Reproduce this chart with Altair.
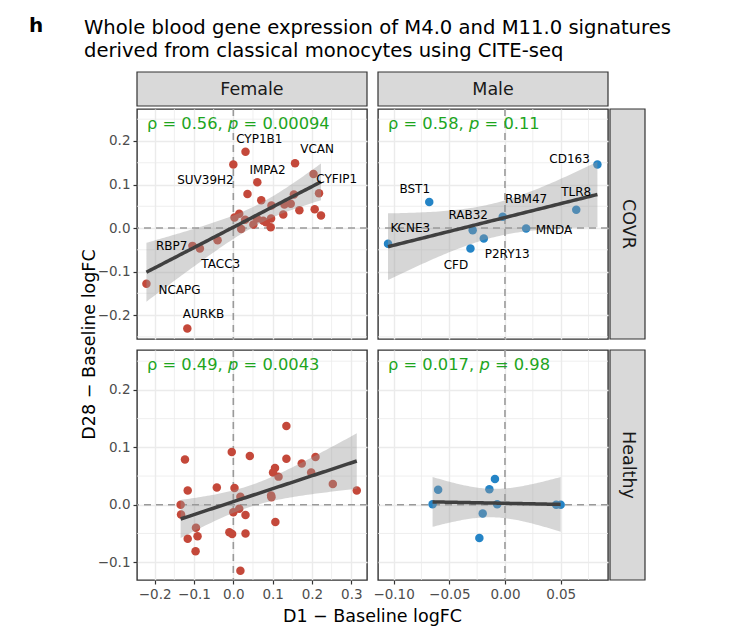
import math
import numpy as np
import pandas as pd
import altair as alt

FONT = "DejaVu Sans"

# ---------------- data ----------------
panel_tag = "h"
title_lines = ["Whole blood gene expression of M4.0 and M11.0 signatures",
               "derived from classical monocytes using CITE-seq"]
col_labels = ["Female", "Male"]
row_labels = ["COVR", "Healthy"]
x_title = "D1 \u2212 Baseline logFC"
y_title = "D28 \u2212 Baseline logFC"

# Female / COVR
fc_x = [0.031, 0.000, 0.157, 0.061, 0.204, 0.218, 0.036, 0.071, 0.154, 0.130, 0.146,
        0.168, 0.097, 0.207, 0.223, 0.127, 0.015, 0.003, 0.020, 0.051, 0.076, 0.083,
        0.096, 0.095, 0.060, 0.030, -0.104, -0.085, -0.040, -0.221, -0.117]
fc_y = [0.175, 0.146, 0.149, 0.105, 0.124, 0.080, 0.078, 0.064, 0.077, 0.054, 0.056,
        0.041, 0.052, 0.043, 0.029, 0.031, 0.033, 0.024, -0.002, 0.008, 0.017, 0.013,
        0.022, 0.002, 0.022, 0.019, -0.041, -0.047, -0.028, -0.128, -0.231]
fc_genes = ["CYP1B1", "VCAN", "IMPA2", "SUV39H2", "CYFIP1", "RBP7", "TACC3", "NCAPG", "AURKB"]
fc_gene_x = [0.066, 0.213, 0.087, -0.071, 0.263, -0.157, -0.032, -0.137, -0.076]
fc_gene_y = [0.204, 0.182, 0.134, 0.110, 0.112, -0.042, -0.082, -0.142, -0.198]

# Male / COVR
mc_x = [0.083, -0.068, 0.064, -0.002, 0.019, -0.029, -0.019, -0.031, -0.105]
mc_y = [0.146, 0.060, 0.042, 0.026, -0.001, -0.005, -0.024, -0.047, -0.036]
mc_genes = ["CD163", "BST1", "TLR8", "RBM47", "RAB32", "KCNE3", "MNDA", "P2RY13", "CFD"]
mc_gene_x = [0.058, -0.081, 0.064, 0.019, -0.033, -0.085, 0.044, 0.002, -0.044]
mc_gene_y = [0.159, 0.089, 0.083, 0.067, 0.031, 0.001, -0.004, -0.059, -0.084]

# Female / Healthy
fh_x = [0.135, -0.123, -0.004, 0.042, 0.135, 0.209, 0.174, 0.106, 0.101, 0.115, 0.198,
        0.253, 0.314, -0.116, -0.042, 0.003, 0.018, 0.096, 0.097, -0.134, -0.133, 0.000,
        0.015, 0.031, 0.107, -0.095, -0.091, -0.116, -0.096, -0.010, -0.003, 0.031, 0.018]
fh_y = [0.137, 0.079, 0.092, 0.085, 0.080, 0.083, 0.072, 0.064, 0.056, 0.049, 0.056,
        0.036, 0.025, 0.025, 0.030, 0.029, 0.014, 0.016, 0.013, 0.000, -0.017, -0.013,
        -0.007, -0.018, -0.030, -0.040, -0.055, -0.059, -0.081, -0.048, -0.051, -0.050, -0.115]

# Male / Healthy
mh_x = [-0.065, -0.060, -0.009, -0.014, -0.007, -0.020, -0.023, 0.046, 0.050]
mh_y = [0.001, 0.026, 0.045, 0.027, 0.001, -0.015, -0.058, 0.000, 0.000]

stat_rho = ["0.56", "0.58", "0.49", "0.017"]
stat_p = ["0.00094", "0.11", "0.0043", "0.98"]

# axis breaks
female_x_major = [-0.2, -0.1, 0.0, 0.1, 0.2, 0.3]
female_x_minor = [-0.15, -0.05, 0.05, 0.15, 0.25]
male_x_major = [-0.10, -0.05, 0.00, 0.05]
male_x_minor = [-0.075, -0.025, 0.025, 0.075]
covr_y_major = [-0.2, -0.1, 0.0, 0.1, 0.2]
covr_y_minor = [-0.25, -0.15, -0.05, 0.05, 0.15, 0.25]
healthy_y_major = [-0.1, 0.0, 0.1, 0.2]
healthy_y_minor = [-0.05, 0.05, 0.15, 0.25]

female_x_domain = [-0.245, 0.340]
male_x_domain = [-0.114, 0.0925]
covr_y_domain = [-0.255, 0.2735]
healthy_y_domain = [-0.131, 0.2695]

RED = "#C4483A"
BLUE = "#2484C6"
GREEN = "#1EA51E"
W, H = 230, 230


# ---------------- helpers ----------------
def t_ppf975(df):
    c = math.gamma((df + 1) / 2) / (math.sqrt(df * math.pi) * math.gamma(df / 2))

    def cdf(t):
        xs = np.linspace(0, t, 4001)
        return 0.5 + np.trapezoid(c * (1 + xs ** 2 / df) ** (-(df + 1) / 2), xs)

    lo, hi = 0.0, 20.0
    for _ in range(60):
        mid = (lo + hi) / 2
        if cdf(mid) < 0.975:
            lo = mid
        else:
            hi = mid
    return (lo + hi) / 2


def lm_band(xs, ys):
    x = np.asarray(xs, float)
    y = np.asarray(ys, float)
    n = len(x)
    b, a = np.polyfit(x, y, 1)
    grid = np.linspace(x.min(), x.max(), 80)
    fit = a + b * grid
    s = math.sqrt(np.sum((y - (a + b * x)) ** 2) / (n - 2))
    se = s * np.sqrt(1 / n + (grid - x.mean()) ** 2 / np.sum((x - x.mean()) ** 2))
    t = t_ppf975(n - 2)
    return pd.DataFrame({"x": grid, "fit": fit, "lo": fit - t * se, "hi": fit + t * se})


# approximate DejaVu Sans advance widths (em)
ADV = {"\u03c1": 0.635, " ": 0.318, "=": 0.838, ".": 0.318, ",": 0.318, "p": 0.635}


def text_w(s, fs):
    return sum(ADV.get(ch, 0.636) for ch in s) * fs


def grid_axis(values, fmt, show):
    return alt.Axis(values=values, format=fmt, grid=True, gridColor="#EBEBEB", gridWidth=1.4,
                    labels=show, ticks=show, domain=False, title=None,
                    tickColor="#333333", tickSize=4, tickWidth=1.2,
                    labelColor="#4D4D4D", labelFontSize=13.5, labelFont=FONT,
                    labelPadding=3, labelFlush=False, labelOverlap=False, labelBound=False)


def panel(xs, ys, color, xdom, ydom, xmaj, xmin, ymaj, ymin, xfmt, yfmt, show_x, show_y,
          idx, genes=None, top_label=None, right_label=None, extra=None):
    sx = alt.Scale(domain=xdom, nice=False, zero=False)
    sy = alt.Scale(domain=ydom, nice=False, zero=False)
    ax = grid_axis(xmaj, xfmt, show_x)
    ay = grid_axis(ymaj, yfmt, show_y)

    def X(f):
        return alt.X(f, type="quantitative", scale=sx, axis=ax)

    def Y(f):
        return alt.Y(f, type="quantitative", scale=sy, axis=ay)

    layers = []
    layers.append(alt.Chart(pd.DataFrame({"v": xmin})).mark_rule(color="#EBEBEB", strokeWidth=0.8)
                  .encode(x=X("v")))
    layers.append(alt.Chart(pd.DataFrame({"v": ymin})).mark_rule(color="#EBEBEB", strokeWidth=0.8)
                  .encode(y=Y("v")))
    layers.append(alt.Chart(pd.DataFrame({"v": [0.0]}))
                  .mark_rule(color="#9A9A9A", strokeWidth=1.6, strokeDash=[7, 5]).encode(x=X("v")))
    layers.append(alt.Chart(pd.DataFrame({"v": [0.0]}))
                  .mark_rule(color="#9A9A9A", strokeWidth=1.6, strokeDash=[7, 5]).encode(y=Y("v")))
    pts = pd.DataFrame({"x": xs, "y": ys})
    layers.append(alt.Chart(pts).mark_circle(size=72, color=color, opacity=1)
                  .encode(x=X("x"), y=Y("y")))
    band = lm_band(xs, ys)
    layers.append(alt.Chart(band).mark_area(color="#999999", opacity=0.4)
                  .encode(x=X("x"), y=Y("lo"), y2="hi"))
    layers.append(alt.Chart(band).mark_line(color="#404040", strokeWidth=3.5)
                  .encode(x=X("x"), y=Y("fit")))
    if genes is not None:
        layers.append(alt.Chart(genes).mark_text(font=FONT, fontSize=12, color="#000000",
                                                 baseline="middle", align="center")
                      .encode(x=X("lx"), y=Y("ly"), text="gene:N"))
    # correlation annotation: "rho = r, p = q" with italic p
    fs = 16.3
    t1 = f"\u03c1 = {stat_rho[idx]},"
    t3 = f"= {stat_p[idx]}"
    x0 = 10
    x1 = x0 + text_w(f"\u03c1 = {stat_rho[idx]}, ", fs)
    x2 = x1 + text_w("p ", fs)
    for txt, xp, style in [(t1, x0, "normal"), ("p", x1, "italic"), (t3, x2, "normal")]:
        layers.append(alt.Chart(pd.DataFrame({"t": [txt]}))
                      .mark_text(font=FONT, fontSize=fs, color=GREEN, align="left",
                                 baseline="alphabetic", fontStyle=style)
                      .encode(x=alt.value(xp), y=alt.value(19.5), text="t:N"))
    if top_label is not None:
        d = pd.DataFrame({"lab": [top_label]})
        layers.append(alt.Chart(d).mark_rect(fill="#D9D9D9", stroke="#333333", strokeWidth=1.2)
                      .encode(x=alt.value(0), x2=alt.value(W), y=alt.value(-37), y2=alt.value(-3)))
        layers.append(alt.Chart(d).mark_text(font=FONT, fontSize=17.5, color="#1A1A1A",
                                             baseline="middle", align="center")
                      .encode(x=alt.value(W / 2), y=alt.value(-19), text="lab:N"))
    if right_label is not None:
        d = pd.DataFrame({"lab": [right_label]})
        layers.append(alt.Chart(d).mark_rect(fill="#D9D9D9", stroke="#333333", strokeWidth=1.2)
                      .encode(x=alt.value(W + 2), x2=alt.value(W + 37), y=alt.value(0), y2=alt.value(H)))
        layers.append(alt.Chart(d).mark_text(font=FONT, fontSize=17.5, color="#1A1A1A",
                                             baseline="middle", align="center", angle=90)
                      .encode(x=alt.value(W + 19.5), y=alt.value(H / 2), text="lab:N"))
    if extra:
        layers.extend(extra)
    return alt.layer(*layers).properties(width=W, height=H)


# header / shared titles (drawn in panel pixel space)
tag_layer = (alt.Chart(pd.DataFrame({"t": [panel_tag]}))
             .mark_text(font=FONT, fontSize=20, fontWeight="bold", color="#000000",
                        align="left", baseline="alphabetic")
             .encode(x=alt.value(-108), y=alt.value(-77), text="t:N"))
title_layer = (alt.Chart(pd.DataFrame({"t": [title_lines]}))
               .mark_text(font=FONT, fontSize=19.6, color="#000000", align="left",
                          baseline="alphabetic", lineHeight=22.5)
               .encode(x=alt.value(-53), y=alt.value(-75), text="t"))
ytitle_layer = (alt.Chart(pd.DataFrame({"t": [y_title]}))
                .mark_text(font=FONT, fontSize=17.5, color="#000000", align="center",
                           baseline="middle", angle=270)
                .encode(x=alt.value(-47), y=alt.value(H + 5.5), text="t:N"))
xtitle_layer = (alt.Chart(pd.DataFrame({"t": [x_title]}))
                .mark_text(font=FONT, fontSize=17.5, color="#000000", align="center",
                           baseline="alphabetic")
                .encode(x=alt.value(W + 5.5), y=alt.value(H + 42), text="t:N"))

fc_genes_df = pd.DataFrame({"gene": fc_genes, "lx": fc_gene_x, "ly": fc_gene_y})
mc_genes_df = pd.DataFrame({"gene": mc_genes, "lx": mc_gene_x, "ly": mc_gene_y})

FC = panel(fc_x, fc_y, RED, female_x_domain, covr_y_domain, female_x_major, female_x_minor,
           covr_y_major, covr_y_minor, ".1f", ".1f", False, True, 0, genes=fc_genes_df,
           top_label=col_labels[0], extra=[tag_layer, title_layer, ytitle_layer])
MC = panel(mc_x, mc_y, BLUE, male_x_domain, covr_y_domain, male_x_major, male_x_minor,
           covr_y_major, covr_y_minor, ".2f", ".1f", False, False, 1, genes=mc_genes_df,
           top_label=col_labels[1], right_label=row_labels[0])
FH = panel(fh_x, fh_y, RED, female_x_domain, healthy_y_domain, female_x_major, female_x_minor,
           healthy_y_major, healthy_y_minor, ".1f", ".1f", True, True, 2, extra=[xtitle_layer])
MH = panel(mh_x, mh_y, BLUE, male_x_domain, healthy_y_domain, male_x_major, male_x_minor,
           healthy_y_major, healthy_y_minor, ".2f", ".1f", True, False, 3, right_label=row_labels[1])

chart = (alt.concat(FC, MC, FH, MH, columns=2, spacing=11, bounds="flush")
         .properties(padding={"left": 28, "top": 15, "right": 5, "bottom": 5}, background="white")
         .configure_view(stroke="#333333", strokeWidth=1.4))

chart.save("out.html", embed_options={"renderer": "svg", "actions": False})
